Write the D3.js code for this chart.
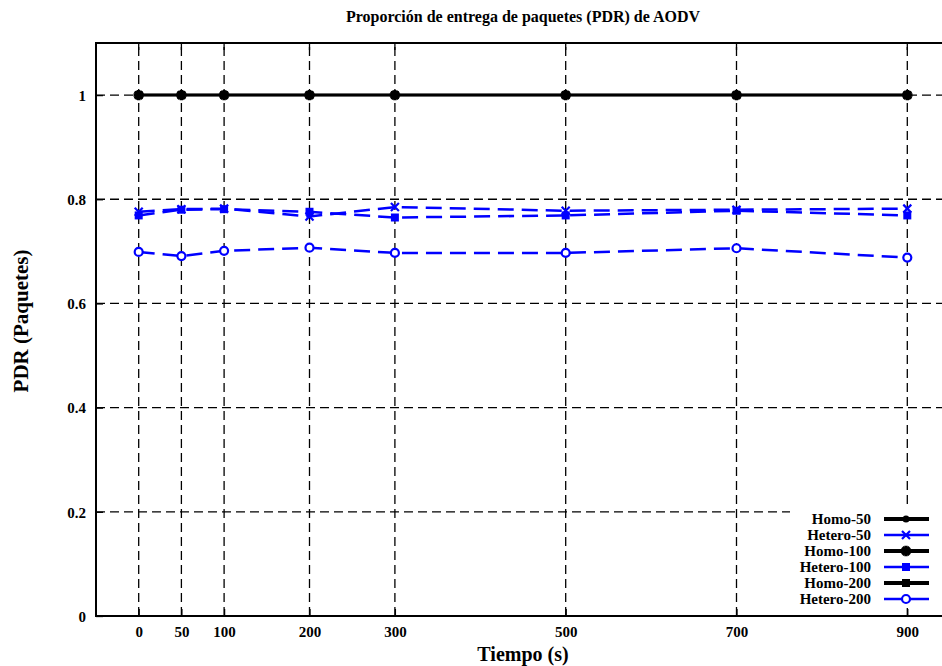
<!DOCTYPE html>
<html>
<head>
<meta charset="utf-8">
<script src="https://cdn.jsdelivr.net/npm/d3@7"></script>
<style>
  html, body { margin: 0; padding: 0; background: #fff; }
  svg { display: block; }
  text { font-family: "Liberation Serif", "Times New Roman", serif; font-weight: bold; fill: #000; }
</style>
</head>
<body>
<svg id="chart" width="942" height="666"></svg>
<script>
// Simulation time (s) at which PDR was sampled
const tiempos = [0, 50, 100, 200, 300, 500, 700, 900];

// PDR per scenario
const homo50    = [1, 1, 1, 1, 1, 1, 1, 1];
const hetero50  = [0.776, 0.781, 0.782, 0.767, 0.785, 0.778, 0.780, 0.782];
const homo100   = [1, 1, 1, 1, 1, 1, 1, 1];
const hetero100 = [0.769, 0.780, 0.781, 0.776, 0.765, 0.769, 0.778, 0.769];
const homo200   = [1, 1, 1, 1, 1, 1, 1, 1];
const hetero200 = [0.699, 0.691, 0.701, 0.707, 0.697, 0.697, 0.706, 0.688];

const seriesNames = ["Homo-50", "Hetero-50", "Homo-100", "Hetero-100", "Homo-200", "Hetero-200"];
const yTicks = [0, 0.2, 0.4, 0.6, 0.8, 1];

const titleText = "Proporción de entrega de paquetes (PDR) de AODV";
const xLabel = "Tiempo (s)";
const yLabel = "PDR (Paquetes)";

const series = [
  { name: seriesNames[0], values: homo50,    color: "#000", width: 2.5, dash: null,   marker: "dot" },
  { name: seriesNames[1], values: hetero50,  color: "#00f", width: 2.5, dash: "16,8", marker: "x" },
  { name: seriesNames[2], values: homo100,   color: "#000", width: 2.5, dash: null,   marker: "star" },
  { name: seriesNames[3], values: hetero100, color: "#00f", width: 2.5, dash: "16,8", marker: "square" },
  { name: seriesNames[4], values: homo200,   color: "#000", width: 2.5, dash: null,   marker: "square" },
  { name: seriesNames[5], values: hetero200, color: "#00f", width: 2.5, dash: "16,8", marker: "circle" }
];

const svg = d3.select("#chart");
const plot = { left: 96, top: 43, right: 950, bottom: 616 };

const x = d3.scaleLinear().domain([-50, 950]).range([plot.left, plot.right]);
const y = d3.scaleLinear().domain([0, 1.1]).range([plot.bottom, plot.top]);

svg.append("defs").append("clipPath").attr("id", "plotclip")
  .append("rect")
  .attr("x", plot.left).attr("y", plot.top)
  .attr("width", plot.right - plot.left).attr("height", plot.bottom - plot.top);

// Dashed grid at every tick
const grid = svg.append("g").attr("stroke", "#000").attr("stroke-width", 1.3)
  .attr("stroke-dasharray", "9,5");
grid.selectAll("line.v").data(tiempos).join("line").attr("class", "v")
  .attr("x1", d => x(d)).attr("x2", d => x(d))
  .attr("y1", plot.bottom).attr("y2", plot.top);
grid.selectAll("line.h").data(yTicks.filter(d => d > 0)).join("line").attr("class", "h")
  .attr("x1", plot.left).attr("x2", plot.right)
  .attr("y1", d => y(d)).attr("y2", d => y(d));

// Axes: labels below / left, small inward ticks
const xAxis = d3.axisBottom(x).tickValues(tiempos).tickSize(-7).tickPadding(10).tickFormat(d => String(d));
const yAxis = d3.axisLeft(y).tickValues(yTicks).tickSize(-7).tickPadding(10).tickFormat(d => String(d));

const gx = svg.append("g").attr("transform", `translate(0,${plot.bottom})`).call(xAxis);
const gy = svg.append("g").attr("transform", `translate(${plot.left},0)`).call(yAxis);
[gx, gy].forEach(g => {
  g.select(".domain").remove();
  g.selectAll(".tick line").attr("stroke", "#000").attr("stroke-width", 1.3);
  g.selectAll(".tick text").style("font-size", "15px").attr("fill", "#000");
});
gy.selectAll(".tick text").attr("dy", "0.35em");

// Mirror ticks on the top border
svg.append("g").selectAll("line").data(tiempos).join("line")
  .attr("x1", d => x(d)).attr("x2", d => x(d))
  .attr("y1", plot.top).attr("y2", plot.top + 7)
  .attr("stroke", "#000").attr("stroke-width", 1.3);

// Marker painter shared by plot and legend
function drawMarker(g, kind, color) {
  if (kind === "dot") {
    g.append("circle").attr("r", 3.5).attr("fill", color);
  } else if (kind === "star") {
    g.append("path").attr("d", d3.symbol(d3.symbolCross, 60)()).attr("fill", color);
    g.append("path").attr("d", d3.symbol(d3.symbolCross, 60)()).attr("fill", color)
      .attr("transform", "rotate(45)");
  } else if (kind === "square") {
    g.append("rect").attr("x", -4).attr("y", -4).attr("width", 8).attr("height", 8).attr("fill", color);
  } else if (kind === "x") {
    g.append("path").attr("d", "M-4,-4L4,4M-4,4L4,-4")
      .attr("stroke", color).attr("stroke-width", 2.2).attr("fill", "none");
  } else if (kind === "circle") {
    g.append("circle").attr("r", 4).attr("fill", "#fff")
      .attr("stroke", color).attr("stroke-width", 2.2);
  }
}

const line = d3.line().x((d, i) => x(tiempos[i])).y(d => y(d));

const plotG = svg.append("g").attr("clip-path", "url(#plotclip)");
series.forEach(s => {
  plotG.append("path")
    .datum(s.values)
    .attr("d", line)
    .attr("fill", "none")
    .attr("stroke", s.color)
    .attr("stroke-width", s.width)
    .attr("stroke-dasharray", s.dash);
  s.values.forEach((v, i) => {
    const m = plotG.append("g").attr("transform", `translate(${x(tiempos[i])},${y(v)})`);
    drawMarker(m, s.marker, s.color);
  });
});

// Legend (bottom right, opaque)
const legend = svg.append("g");
legend.append("rect")
  .attr("x", 790).attr("y", 509).attr("width", 152).attr("height", 99)
  .attr("fill", "#fff");
series.forEach((s, i) => {
  const ry = 519 + i * 16;
  legend.append("text")
    .attr("x", 871).attr("y", ry).attr("dy", "0.35em")
    .attr("text-anchor", "end")
    .style("font-size", "15px")
    .text(s.name);
  legend.append("line")
    .attr("x1", 884).attr("x2", 929).attr("y1", ry).attr("y2", ry)
    .attr("stroke", s.color).attr("stroke-width", s.color === "#000" ? 4 : 2.5);
  const m = legend.append("g").attr("transform", `translate(906,${ry})`);
  drawMarker(m, s.marker, s.color);
});

// Frame
svg.append("rect")
  .attr("x", plot.left).attr("y", plot.top)
  .attr("width", plot.right - plot.left).attr("height", plot.bottom - plot.top)
  .attr("fill", "none").attr("stroke", "#000").attr("stroke-width", 2);

// Titles
svg.append("text")
  .attr("x", (plot.left + plot.right) / 2).attr("y", 22)
  .attr("text-anchor", "middle")
  .style("font-size", "16px")
  .text(titleText);

svg.append("text")
  .attr("x", (plot.left + plot.right) / 2).attr("y", 661)
  .attr("text-anchor", "middle")
  .style("font-size", "20px")
  .text(xLabel);

svg.append("text")
  .attr("transform", `translate(28,321) rotate(-90)`)
  .attr("text-anchor", "middle")
  .style("font-size", "21px")
  .text(yLabel);
</script>
</body>
</html>
